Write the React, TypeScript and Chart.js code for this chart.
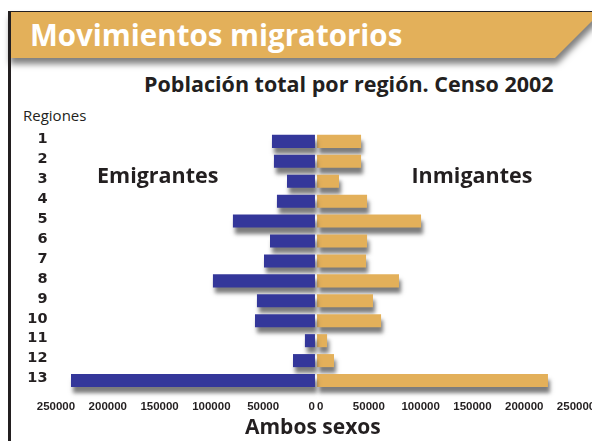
import React, { useEffect, useRef } from 'react';
import { Chart, registerables } from 'chart.js';

Chart.register(...registerables);

// ---- data ----
const regions = ['1', '2', '3', '4', '5', '6', '7', '8', '9', '10', '11', '12', '13'];
const emigrantes = [41500, 39600, 27000, 36700, 79200, 43400, 49200, 98500, 56000, 57900, 9700, 21200, 235500];
const inmigrantes = [42500, 42500, 21200, 48300, 100400, 48300, 47300, 79100, 54000, 61800, 9700, 16400, 222900];
const axisTicks = [0, 50000, 100000, 150000, 200000, 250000];
const axisMin = -1000;
const axisMaxLeft = 257700;
const axisMaxRight = 265400;

const BLUE = '#34379a';
const GOLD = '#e3b05a';
const INK = '#231f20';

const shadowPlugin = {
  id: 'barShadow',
  beforeDatasetsDraw(chart: any) {
    const ctx = chart.ctx;
    ctx.save();
    ctx.shadowColor = 'rgba(80,80,80,0.75)';
    ctx.shadowBlur = 4;
    ctx.shadowOffsetX = 2;
    ctx.shadowOffsetY = 6;
  },
  afterDatasetsDraw(chart: any) {
    chart.ctx.restore();
  },
};

const tickFont = { family: "'Liberation Sans', Arial, sans-serif", weight: 'bold' as const, size: 11.5 };

function xAxis(reverse: boolean, max: number, weight: number) {
  return {
    type: 'linear' as const,
    position: 'bottom' as const,
    stack: 'x',
    stackWeight: weight,
    reverse,
    min: axisMin,
    max,
    grid: { display: false, drawTicks: false },
    border: { display: false },
    afterBuildTicks: (s: any) => {
      s.ticks = [...axisTicks, max].map((v) => ({ value: v }));
    },
    afterFit: (s: any) => {
      s.height = 29.5;
      s.paddingLeft = 0;
      s.paddingRight = 0;
    },
    ticks: {
      autoSkip: false,
      maxRotation: 0,
      minRotation: 0,
      align: 'inner' as const,
      padding: 9.5,
      color: INK,
      font: tickFont,
      callback: (v: any) => (axisTicks.includes(Number(v)) ? String(v) : ''),
    },
  };
}

function ButterflyChart() {
  const ref = useRef<HTMLCanvasElement | null>(null);
  useEffect(() => {
    if (!ref.current) return;
    const chart = new Chart(ref.current, {
      type: 'bar',
      data: {
        labels: regions,
        datasets: [
          {
            label: 'Emigrantes',
            data: emigrantes,
            xAxisID: 'xL',
            yAxisID: 'y',
            backgroundColor: BLUE,
            grouped: false,
            barPercentage: 0.655,
            categoryPercentage: 1,
            clip: false as any,
          },
          {
            label: 'Inmigantes',
            data: inmigrantes,
            xAxisID: 'xR',
            yAxisID: 'y',
            backgroundColor: GOLD,
            grouped: false,
            barPercentage: 0.655,
            categoryPercentage: 1,
            clip: false as any,
          },
        ],
      },
      options: {
        indexAxis: 'y',
        animation: false,
        responsive: true,
        maintainAspectRatio: false,
        devicePixelRatio: 1,
        layout: { padding: { top: 11.4, left: 0, right: 0, bottom: 0 } },
        plugins: { legend: { display: false }, tooltip: { enabled: false }, title: { display: false } },
        scales: {
          xL: xAxis(true, axisMaxLeft, 268) as any,
          xR: xAxis(false, axisMaxRight, 276) as any,
          y: {
            type: 'category',
            position: 'left',
            grid: { display: false, drawTicks: false },
            border: { display: false },
            afterFit: (s: any) => {
              s.width = 48;
              s.paddingTop = 0;
              s.paddingBottom = 0;
            },
            ticks: {
              autoSkip: false,
              padding: 0.5,
              labelOffset: -2,
              color: INK,
              font: { family: "'DejaVu Sans', sans-serif", weight: 'bold', size: 14.5 },
            },
          } as any,
        },
      },
      plugins: [shadowPlugin],
    });
    return () => chart.destroy();
  }, []);
  return <canvas ref={ref} />;
}

const txt = (left: number, top: number, size: number, weight: number, text: string, color = INK) => (
  <div
    style={{
      position: 'absolute',
      left,
      top,
      fontSize: size,
      fontWeight: weight,
      lineHeight: 1,
      whiteSpace: 'nowrap',
      color,
      fontFamily: "'Open Sans', sans-serif",
    }}
  >
    {text}
  </div>
);

export default function App() {
  return (
    <div
      style={{
        position: 'fixed',
        left: 0,
        top: 0,
        width: 592,
        height: 441,
        background: '#fff',
        overflow: 'hidden',
      }}
    >
      <div
        style={{
          position: 'absolute',
          left: 8,
          top: 11,
          width: 594,
          height: 47,
          filter: 'drop-shadow(2px 6px 3px rgba(0,0,0,0.5))',
        }}
      >
        <div
          style={{
            width: '100%',
            height: '100%',
            boxSizing: 'border-box',
            background: GOLD,
            borderTop: `1px solid ${INK}`,
            clipPath: 'polygon(0 0, 100% 0, calc(100% - 47px) 100%, 0 100%)',
          }}
        />
      </div>
      <div style={{ position: 'absolute', left: 8, top: 11, width: 3, height: 430, background: INK }} />
      {txt(30, 19.8, 29.5, 700, 'Movimientos migratorios', '#ffffff')}
      {txt(144, 72.9, 21.5, 700, 'Población total por región. Censo 2002')}
      {txt(23, 107.7, 15, 400, 'Regiones')}
      <div style={{ position: 'absolute', left: 0, top: 120, width: 592, height: 300 }}>
        <ButterflyChart />
      </div>
      {txt(97, 163.6, 21.5, 700, 'Emigrantes')}
      {txt(411.5, 163.9, 21.5, 700, 'Inmigantes')}
      {txt(245, 415.6, 21, 700, 'Ambos sexos')}
    </div>
  );
}
